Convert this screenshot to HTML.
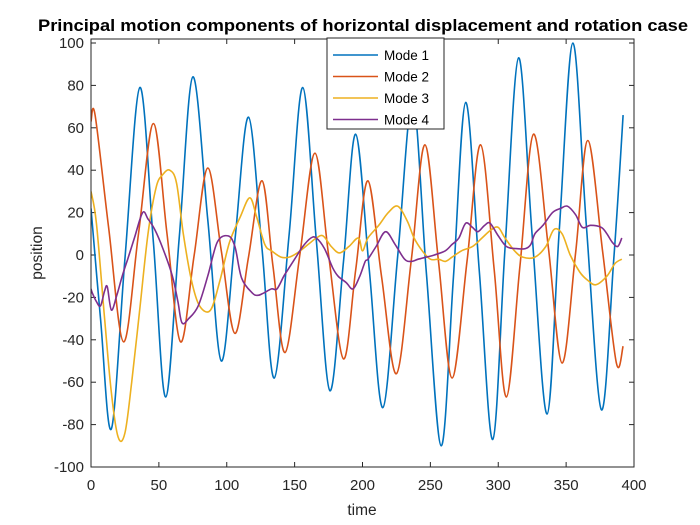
<!DOCTYPE html>
<html><head><meta charset="utf-8"><style>
body{margin:0;background:#fff;}
svg{display:block;font-family:"Liberation Sans",Arial,sans-serif;}
</style></head><body>
<svg id="chart" width="700" height="525" viewBox="0 0 700 525" xmlns="http://www.w3.org/2000/svg">
<rect width="700" height="525" fill="#fff"/>
<text x="363" y="31" text-anchor="middle" font-size="16.5" font-weight="bold" fill="#000" textLength="650" lengthAdjust="spacingAndGlyphs">Principal motion components of horizontal displacement and rotation case</text>
<rect x="91" y="39" width="543" height="428" fill="#fff" stroke="none"/>
<g id="grid"></g>
<g id="series" clip-path="url(#clip)"></g>
<clipPath id="clip"><rect x="91" y="39" width="543" height="428"/></clipPath>
<rect x="91" y="39" width="543" height="428" fill="none" stroke="#262626" stroke-width="1"/>
<text x="362" y="515" text-anchor="middle" font-size="15.5" fill="#262626">time</text>
<text transform="translate(42,253) rotate(-90)" text-anchor="middle" font-size="15.5" fill="#262626">position</text>
<g>
<rect x="327" y="38" width="117" height="91" fill="#fff" stroke="#262626" stroke-width="1"/>
<g id="legend-items"></g>
</g>
</svg>
<script>
const xTicks=[0,50,100,150,200,250,300,350,400];
const yTicks=[-100,-80,-60,-40,-20,0,20,40,60,80,100];
const seriesNames=["Mode 1","Mode 2","Mode 3","Mode 4"];
const mode1X=[0,7,15,25,36,46,55,65,75,86,96,106,116,126,135,146,156,166,176,186,195,205,215,226,237,247,258,267,276,286,296,305,315,325,336,345,355,365,376,385,392];
const mode1Y=[22,-30,-82,-2,79,6,-67,8,84,17,-50,7,65,3,-58,10,79,7,-64,-3,57,-7,-72,0,73,-8,-90,-10,72,-7,-87,3,93,9,-75,12,100,13,-73,-3,66];
const mode2X=[0,3,13,24,35,46,56,66,76,86,96,106,116,126,134,143,154,165,175,186,195,204,214,225,236,246,256,266,277,287,297,306,316,326,337,347,357,366,377,387,392];
const mode2Y=[63,66,13,-41,10,62,10,-41,0,41,2,-37,-1,35,-5,-46,1,48,0,-49,-7,35,-10,-56,-2,52,-3,-58,-3,52,-7,-67,-5,57,3,-51,1,54,1,-51,-43];
const mode3X=[0,4,10,15,20,25,30,36,42,48,53,58,63,68,74,80,88,95,102,110,117,122,128,133,140,146,152,160,166,171,177,183,190,197,200,204,212,219,226,233,238,244,250,256,261,266,273,281,288,295,300,305,312,318,327,335,341,347,353,360,366,372,380,386,391];
const mode3Y=[30,15,-30,-65,-86,-84,-60,-25,10,32,38,40,34,10,-12,-24,-26,-12,6,18,27,18,5,2,-1,-1,1,5,8,9,4,1,4,8,2,8,14,20,23,16,8,2,-2,-2,-3,-1,2,4,8,12,13,8,2,-1,-1,4,12,10,0,-8,-12,-14,-10,-4,-2];
const mode4X=[0,1,4,7,10,12,15,19,23,27,32,38,42,47,53,60,64,67,72,79,86,93,101,106,111,119,123,127,133,137,142,145,150,156,162,166,172,178,182,188,193,198,202,204,210,217,224,231,236,241,247,253,261,266,271,276,281,285,290,294,300,306,313,320,324,327,333,340,346,351,357,362,368,376,380,384,388,391];
const mode4Y=[-16,-18,-22,-24,-17,-15,-26,-19,-10,-2,8,20,17,12,3,-10,-22,-32,-30,-24,-10,6,9,4,-11,-18,-19,-18,-16,-16,-10,-7,-2,4,8,8,3,-6,-10,-13,-16,-10,-3,-2,4,11,5,-2,-3,-2,-1,0,2,5,8,15,13,11,14,15,9,4,3,3,5,10,14,20,22,23,19,13,14,13,10,6,4,8];

const X0=91,X1=634,Y0=467,Y1=43;
const sx=v=>X0+(v-0)/400*(X1-X0);
const sy=v=>Y0-(v+100)/200*(Y0-Y1);
const NS="http://www.w3.org/2000/svg";
const grid=document.getElementById('grid');
function mk(tag,attrs,parent){const e=document.createElementNS(NS,tag);for(const k in attrs)e.setAttribute(k,attrs[k]);parent.appendChild(e);return e;}
xTicks.forEach(t=>{
  const x=sx(t);
  const l=mk('line',{x1:x,x2:x,y1:467,y2:462,stroke:'#262626'},grid);
  
  
  mk('line',{x1:x,x2:x,y1:39,y2:44,stroke:'#262626'},grid);
  const tx=mk('text',{x:x,y:490,'text-anchor':'middle','font-size':'15',fill:'#262626'},grid);
  tx.textContent=t;
  
  
});
yTicks.forEach(t=>{
  const y=sy(t);
  const l=mk('line',{x1:91,x2:96,y1:y,y2:y,stroke:'#262626'},grid);
  
  
  mk('line',{x1:634,x2:629,y1:y,y2:y,stroke:'#262626'},grid);
  const tx=mk('text',{x:84,y:y+5,'text-anchor':'end','font-size':'15',fill:'#262626'},grid);
  tx.textContent=t;
  
  
});
function path(xs,ys){
  const p=xs.map((x,i)=>[sx(x),sy(ys[i])]);
  let d='M'+p[0][0].toFixed(1)+','+p[0][1].toFixed(1);
  for(let i=0;i<p.length-1;i++){
    const a=p[Math.max(0,i-1)],b=p[i],c=p[i+1],e=p[Math.min(p.length-1,i+2)];
    const c1=[b[0]+(c[0]-a[0])/6,b[1]+(c[1]-a[1])/6];
    const c2=[c[0]-(e[0]-b[0])/6,c[1]-(e[1]-b[1])/6];
    d+=' C'+c1.map(v=>v.toFixed(1))+' '+c2.map(v=>v.toFixed(1))+' '+c.map(v=>v.toFixed(1));
  }
  return d;
}
const colors=["#0072BD","#D95319","#EDB120","#7E2F8E"];
const data=[[mode1X,mode1Y],[mode2X,mode2Y],[mode3X,mode3Y],[mode4X,mode4Y]];
const sg=document.getElementById('series');
const lg=document.getElementById('legend-items');
data.forEach((s,i)=>{
  const p=mk('path',{d:path(s[0],s[1]),fill:'none',stroke:colors[i],'stroke-width':'1.6','stroke-linejoin':'round'},sg);
  
  
  const y=55+i*21.5;
  const g=mk('g',{},lg);
  
  
  mk('line',{x1:333,x2:378,y1:y,y2:y,stroke:colors[i],'stroke-width':'1.6'},g);
  const t=mk('text',{x:384,y:y+5,'font-size':'13.5',fill:'#000'},g);
  t.textContent=seriesNames[i];
});
</script>
</body></html>
